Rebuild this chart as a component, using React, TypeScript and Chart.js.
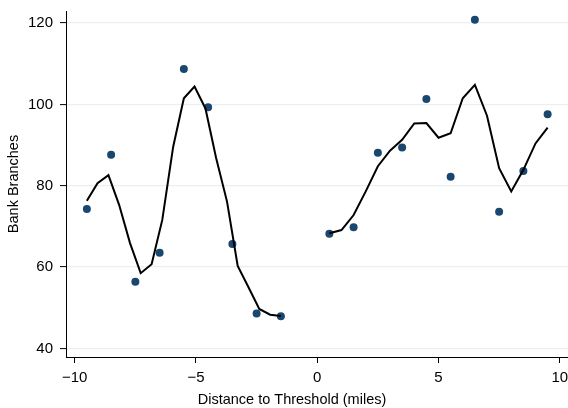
import React, { useEffect, useRef } from "react";
import { Chart, registerables } from "chart.js";

Chart.register(...registerables);

// Binned means (scatter dots)
const binX = [-9.5, -8.5, -7.5, -6.5, -5.5, -4.5, -3.5, -2.5, -1.5, 0.5, 1.5, 2.5, 3.5, 4.5, 5.5, 6.5, 7.5, 8.5, 9.5];
const binY = [74.3, 87.6, 56.4, 63.5, 108.7, 99.3, 65.7, 48.6, 47.9, 68.2, 69.8, 88.1, 89.4, 101.3, 82.2, 120.8, 73.6, 83.6, 97.6];

// Smoothed fit, left of threshold
const leftX = [-9.5, -9.06, -8.61, -8.17, -7.72, -7.28, -6.83, -6.39, -5.94, -5.5, -5.06, -4.61, -4.17, -3.72, -3.28, -2.83, -2.39, -1.94, -1.5];
const leftY = [76.3, 80.6, 82.6, 75.3, 65.9, 58.5, 60.7, 71.6, 89.6, 101.5, 104.4, 99.0, 86.8, 76.1, 60.3, 55.0, 49.7, 48.3, 48.0];

// Smoothed fit, right of threshold
const rightX = [0.5, 1, 1.5, 2, 2.5, 3, 3.5, 4, 4.5, 5, 5.5, 6, 6.5, 7, 7.5, 8, 8.5, 9, 9.5];
const rightY = [68.3, 69.1, 72.8, 78.6, 84.8, 88.6, 91.3, 95.3, 95.4, 91.8, 92.9, 101.5, 104.8, 97.2, 84.3, 78.6, 83.9, 90.4, 94.3];

const xTicks = [-10, -5, 0, 5, 10];
const yTicks = [40, 60, 80, 100, 120];

const xTitle = "Distance to Threshold (miles)";
const yTitle = "Bank Branches";

const FONT = "'Liberation Sans', Arial, Helvetica, sans-serif";
const DOT = "#1a476f";
const GRID = "#e9f0f2";

const pts = (xs: number[], ys: number[]) => xs.map((x, i) => ({ x, y: ys[i] }));
const fmt = (v: number) => (v < 0 ? "\u2212" + Math.abs(v) : String(v));

const xTitlePlugin = {
  id: "xTitlePlugin",
  afterDraw(chart: any) {
    const ctx = chart.ctx;
    ctx.save();
    ctx.font = `14.5px ${FONT}`;
    ctx.fillStyle = "#000";
    ctx.textAlign = "center";
    ctx.textBaseline = "middle";
    ctx.fillText(xTitle, 292, 399.5);
    ctx.restore();
  },
};

export default function App() {
  const ref = useRef<HTMLCanvasElement | null>(null);

  useEffect(() => {
    if (!ref.current) return;
    const chart = new Chart(ref.current, {
      type: "scatter",
      data: {
        datasets: [
          {
            data: pts(binX, binY),
            backgroundColor: DOT,
            borderColor: DOT,
            pointRadius: 4,
            pointBorderWidth: 0,
            showLine: false,
            order: 2,
          },
          {
            data: pts(leftX, leftY),
            showLine: true,
            borderColor: "#000",
            borderWidth: 2,
            pointRadius: 0,
            tension: 0,
            order: 1,
          },
          {
            data: pts(rightX, rightY),
            showLine: true,
            borderColor: "#000",
            borderWidth: 2,
            pointRadius: 0,
            tension: 0,
            order: 1,
          },
        ],
      },
      options: {
        responsive: false,
        animation: false,
        layout: { autoPadding: false, padding: { top: 11, right: 0, bottom: 0, left: 0 } },
        plugins: {
          legend: { display: false },
          tooltip: { enabled: false },
        },
        scales: {
          x: {
            type: "linear",
            min: -10.36,
            max: 10.34,
            afterBuildTicks: (s: any) => {
              s.ticks = xTicks.map((v) => ({ value: v }));
            },
            afterFit: (s: any) => {
              s.height = 51;
              s.paddingLeft = 0;
              s.paddingRight = 0;
              s.paddingTop = 0;
              s.paddingBottom = 0;
            },
            grid: {
              drawOnChartArea: false,
              drawTicks: true,
              tickLength: 6,
              tickColor: "#000",
              tickWidth: 1,
            },
            border: { display: true, color: "#000", width: 1 },
            ticks: {
              color: "#000",
              font: { family: FONT, size: 15 },
              padding: 6,
              maxRotation: 0,
              callback: (v: any) => fmt(Number(v)),
            },
            title: { display: false },
          },
          y: {
            type: "linear",
            min: 37.9,
            max: 122.95,
            afterBuildTicks: (s: any) => {
              s.ticks = yTicks.map((v) => ({ value: v }));
            },
            afterFit: (s: any) => {
              s.width = 66;
              s.paddingTop = 0;
              s.paddingBottom = 0;
              s.paddingLeft = 0;
              s.paddingRight = 0;
            },
            grid: {
              drawOnChartArea: true,
              color: GRID,
              lineWidth: 1.2,
              drawTicks: true,
              tickLength: 6,
              tickColor: "#000",
              tickWidth: 1,
            },
            border: { display: true, color: "#000", width: 1 },
            ticks: {
              color: "#000",
              font: { family: FONT, size: 15 },
              padding: 7,
              callback: (v: any) => fmt(Number(v)),
            },
            title: {
              display: true,
              text: yTitle,
              color: "#000",
              font: { family: FONT, size: 14.5, lineHeight: 1.2 },
              padding: { top: 5, bottom: 0 },
            },
          },
        },
      },
      plugins: [xTitlePlugin],
    } as any);
    return () => chart.destroy();
  }, []);

  return (
    <div style={{ position: "absolute", left: 0, top: 0, width: 568, height: 408, background: "#fff" }}>
      <canvas ref={ref} width={568} height={408} style={{ display: "block", width: 568, height: 408 }} />
    </div>
  );
}
